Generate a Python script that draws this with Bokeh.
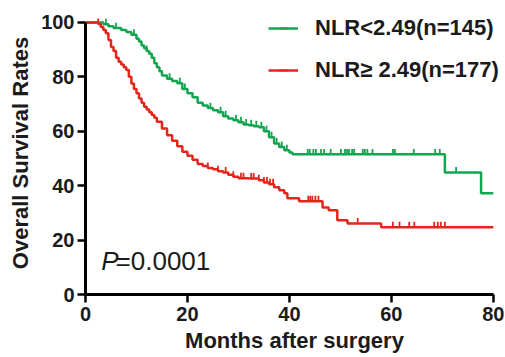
import numpy as np
from bokeh.plotting import figure
from bokeh.models import Legend, LegendItem, Label, FixedTicker, Range1d
from bokeh.embed import file_html
from bokeh.resources import INLINE

# ---- data ----
green_times = [0, 3.5, 4.5, 5.5, 7, 8, 9, 10, 10.5, 11, 11.5, 12, 12.5, 13, 13.5, 14, 14.5, 15, 16, 17,
               18, 19, 20, 21, 22, 23, 24, 25, 26, 27, 28, 29, 30, 31, 32, 33, 34, 35, 36, 37,
               38, 39, 40, 40.6, 70.5, 77.6, 80]
green_surv = [100, 99.3, 98.6, 97.9, 97.2, 96.5, 95.5, 94, 93, 91.5, 90.5, 89.5, 88.5, 87, 85, 83.5, 82, 80.5, 79.3, 78.5,
              77.6, 75.5, 74, 72.5, 70.5, 69.5, 68.5, 67.7, 67, 65.5, 64.7, 64.0, 63.3, 62.5, 62.2, 61.8, 61.5, 60, 57.8, 55.5,
              54.2, 53, 52.2, 51.5, 44.8, 37.2, 37.2]
green_censor = [4, 6, 9.5, 12, 16.5, 18.5, 19.5, 24.5, 26.5, 27.5, 29.5, 30.5, 31.5, 32.5, 33.5, 34.5, 35.5,
                36.5, 37.5, 38.5, 39.5, 43.6, 44.0, 44.7, 45.2, 46.2, 46.8, 48.1, 50.1, 50.9, 51.3, 51.7,
                52.3, 52.7, 54.4, 54.8, 55.3, 56.3, 60.3, 60.7, 64.4, 68.6, 69.5, 72.7]

red_times = [0, 2.5, 3, 3.5, 4, 4.5, 5, 5.5, 6, 6.5, 7, 7.5, 8, 8.5, 9, 9.5, 10, 10.5, 11, 11.5,
             12, 12.5, 13, 13.5, 14, 15, 16, 17, 18, 19, 20, 21, 22, 23, 24, 25, 26, 27, 28, 29,
             30, 32, 34, 35, 36, 37, 38, 39, 39.6, 41.9, 46.5, 47.7, 49.4, 51.4, 58, 80]
red_surv = [100, 99.4, 98.3, 97.2, 96, 93.5, 91, 89.5, 87, 85.5, 84.5, 83.5, 82.5, 80, 77.5, 75.5, 74, 72, 70.5, 69,
            68, 67, 66, 65, 63.5, 61, 58.5, 56.5, 54.5, 52.5, 51, 49.5, 48, 47.2, 46.5, 46, 45.3, 44.8, 44, 43.3,
            42.7, 42.6, 42, 41.2, 40.5, 39.4, 38.3, 37.2, 35.4, 34.3, 32, 31, 27.3, 26.1, 24.7, 24.7]
red_censor = [2.5, 24, 26, 27.5, 29, 30.5, 31, 32.5, 33, 34, 35, 35.6, 36.2, 36.8, 43.7, 44.1, 44.5, 45.1,
              45.7, 53.4, 60.3, 61.6, 63.5, 64.5, 68.4, 69.1, 69.7, 70.5]

labels = ["NLR<2.49(n=145)", "NLR\u2265 2.49(n=177)"]
x_ticks = [0, 20, 40, 60, 80]
y_ticks = [0, 20, 40, 60, 80, 100]
x_title = "Months after surgery"
y_title = "Overall Survival Rates"
p_value_text = "=0.0001"

GREEN = "#14A552"
RED = "#E3261C"
FONT = "Liberation Sans"
TXT = "#1b1b1b"


def surv_at(times, surv, ts):
    idx = np.searchsorted(np.array(times), np.array(ts), side="right") - 1
    return [surv[i] for i in idx]


p = figure(width=505, height=357, output_backend="svg", toolbar_location=None,
           x_range=Range1d(0, 82), y_range=Range1d(0, 104),
           min_border_left=85, min_border_right=2, min_border_top=11, min_border_bottom=63)
p.outline_line_color = None
p.xgrid.visible = False
p.ygrid.visible = False
p.background_fill_color = "white"
p.border_fill_color = "white"

rg = p.step(green_times, green_surv, mode="after", line_color=GREEN, line_width=2.5)
rr = p.step(red_times, red_surv, mode="after", line_color=RED, line_width=2.5)

gc = p.scatter(green_censor, [s + 1.0 for s in surv_at(green_times, green_surv, green_censor)],
               marker="dash", angle=np.pi / 2, size=5.5, line_color=GREEN, line_width=1.8)
rc = p.scatter(red_censor, [s + 1.0 for s in surv_at(red_times, red_surv, red_censor)],
               marker="dash", angle=np.pi / 2, size=5.5, line_color=RED, line_width=1.8)

for ax in (p.xaxis[0], p.yaxis[0]):
    ax.axis_line_width = 3
    ax.axis_line_color = "black"
    ax.major_tick_line_width = 2.5
    ax.major_tick_line_color = "black"
    ax.major_tick_out = 8
    ax.major_tick_in = 0
    ax.minor_tick_line_color = None
    ax.major_label_text_font = FONT
    ax.major_label_text_font_style = "bold"
    ax.major_label_text_font_size = "20px"
    ax.major_label_text_color = TXT
    ax.axis_label_text_font = FONT
    ax.axis_label_text_font_style = "bold"
    ax.axis_label_text_font_size = "22px"
    ax.axis_label_text_color = TXT

p.xaxis.ticker = FixedTicker(ticks=x_ticks)
p.yaxis.ticker = FixedTicker(ticks=y_ticks)
p.xaxis.bounds = (0, 80)
p.yaxis.bounds = (0, 100)
p.xaxis.axis_label = x_title
p.yaxis.axis_label = y_title
p.xaxis.major_label_standoff = 4
p.yaxis.major_label_standoff = 3
p.xaxis.axis_label_standoff = 4
p.yaxis.axis_label_standoff = 5

legend = Legend(items=[LegendItem(label=labels[0], renderers=[rg, gc]),
                       LegendItem(label=labels[1], renderers=[rr, rc])],
                location=(183, 211), orientation="vertical",
                glyph_width=30, glyph_height=22, label_height=22, label_standoff=17,
                spacing=16, padding=0, margin=0,
                border_line_color=None, background_fill_alpha=0,
                label_text_font=FONT, label_text_font_style="bold",
                label_text_font_size="22px", label_text_color=TXT)
p.add_layout(legend, "center")

p.add_layout(Label(x=3.1, y=12.2, text="P", text_baseline="alphabetic", text_font=FONT,
                   text_font_style="italic", text_font_size="26px", text_color=TXT))
p.add_layout(Label(x=5.9, y=12.2, text=p_value_text, text_baseline="alphabetic", text_font=FONT,
                   text_font_size="26px", text_color=TXT))

open("out.html", "w").write(file_html(p, INLINE))
